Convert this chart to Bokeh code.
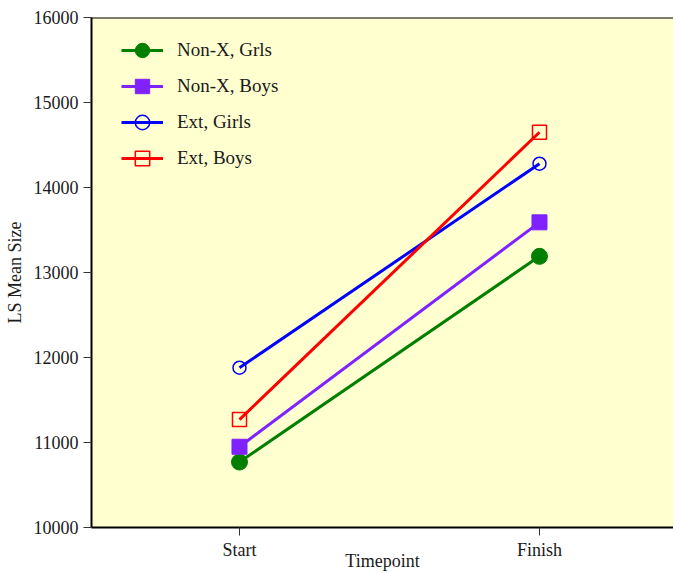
from bokeh.plotting import figure
from bokeh.models import Range1d, FixedTicker, Span
from bokeh.embed import file_html
from bokeh.resources import INLINE

categories = ["Start", "Finish"]
y_ticks = [10000, 11000, 12000, 13000, 14000, 15000, 16000]
series_names = ["Non-X, Grls", "Non-X, Boys", "Ext, Girls", "Ext, Boys"]
nonx_girls = [10770, 13190]
nonx_boys = [10950, 13590]
ext_girls = [11880, 14280]
ext_boys = [11270, 14650]
x_title = "Timepoint"
y_title = "LS Mean Size"

FONT = "Liberation Serif"
TXT = "#1a1a1a"

x = list(range(len(categories)))

p = figure(width=673, height=573, output_backend="svg", toolbar_location=None,
           x_range=Range1d(-0.4933, 1.4467), y_range=Range1d(10000, 16000),
           min_border_left=91, min_border_top=17, min_border_right=0, min_border_bottom=30)
p.background_fill_color = "#FFFFD0"
p.border_fill_color = "white"
p.outline_line_color = None
p.grid.visible = False

styles = [
    (nonx_girls, "#007F00", "circle", 16, True),
    (nonx_boys, "#7F22FF", "square", 15, True),
    (ext_girls, "#0000FF", "circle", 13, False),
    (ext_boys, "#FF0000", "square", 14, False),
]
for (vals, color, marker, size, filled), name in zip(styles, series_names):
    p.line(x, vals, line_color=color, line_width=3, legend_label=name)
    if filled:
        p.scatter(x, vals, marker=marker, size=size, fill_color=color, line_color=color,
                  legend_label=name)
    else:
        p.scatter(x, vals, marker=marker, size=size, fill_color=None, line_color=color,
                  line_width=1.5, legend_label=name)

p.add_layout(Span(location=16000, dimension="width", line_color="black", line_width=2))

for ax in (p.xaxis[0], p.yaxis[0]):
    ax.axis_line_width = 2
    ax.axis_line_color = "black"
    ax.major_tick_in = 0
    ax.major_tick_out = 8
    ax.major_tick_line_color = "#333333"
    ax.minor_tick_line_color = None
    ax.major_label_text_font = FONT
    ax.major_label_text_font_size = "18px"
    ax.major_label_text_color = TXT
    ax.axis_label_text_font = FONT
    ax.axis_label_text_font_size = "18px"
    ax.axis_label_text_font_style = "normal"
    ax.axis_label_text_color = TXT

p.xaxis.ticker = FixedTicker(ticks=x)
p.xaxis.major_label_overrides = {i: c for i, c in zip(x, categories)}
p.xaxis.major_label_standoff = 4
p.xaxis.axis_label = x_title
p.xaxis.axis_label_standoff = -12

p.yaxis.ticker = FixedTicker(ticks=y_ticks)
p.yaxis.major_label_standoff = 5
p.yaxis.axis_label = y_title
p.yaxis.axis_label_standoff = 6

leg = p.legend[0]
leg.location = (30, 351)
leg.background_fill_alpha = 0
leg.border_line_color = None
leg.padding = 0
leg.margin = 0
leg.spacing = 0
leg.glyph_width = 42
leg.glyph_height = 36
leg.label_height = 36
leg.label_standoff = 14
leg.label_text_font = FONT
leg.label_text_font_size = "19px"
leg.label_text_color = TXT

open("out.html", "w").write(file_html(p, INLINE))
